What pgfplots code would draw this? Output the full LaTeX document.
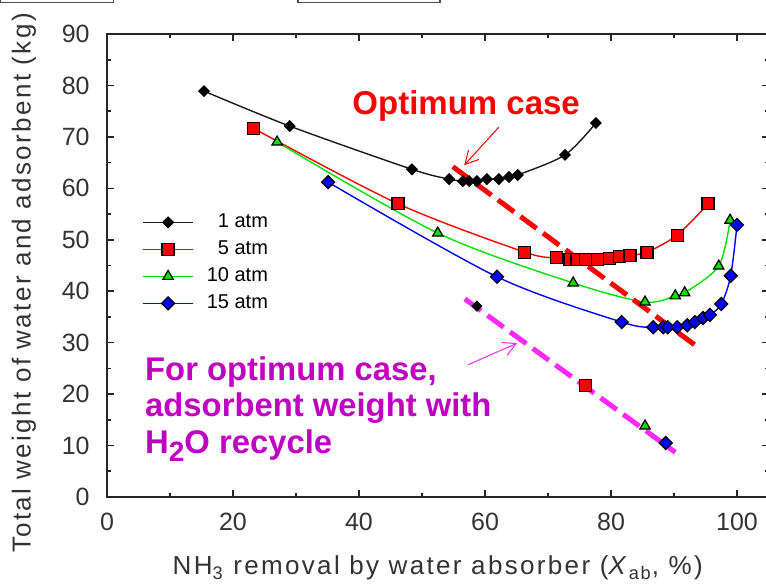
\documentclass[border=0pt]{standalone}
\usepackage{fontspec}
\setmainfont{Liberation Sans}
\newfontfamily\labelfont{Liberation Sans}[LetterSpace=9]
\usepackage{pgfplots}
\pgfplotsset{compat=1.18}
\usetikzlibrary{arrows.meta}
\definecolor{mag}{RGB}{255,40,255}
\definecolor{purp}{RGB}{192,0,192}
\definecolor{grn}{RGB}{0,225,0}
\definecolor{rd}{RGB}{255,0,0}
\definecolor{bl}{RGB}{0,0,255}
\begin{document}
\begin{tikzpicture}
\begin{axis}[
 at={(53.5bp,44bp)}, anchor=south west, scale only axis,
 width=330.75bp, height=231.5bp,
 xmin=0, xmax=105, ymin=0, ymax=90,
 xtick={0,20,...,100}, ytick={0,10,...,90},
 minor xtick={10,30,...,90}, minor ytick={5,15,...,85},
 tick align=inside, major tick length=3.5bp, minor tick length=2bp,
 axis line style={line width=1bp, black!85},
 every tick/.style={line width=0.8bp, black!85},
 /pgf/number format/assume math mode=true,
 tick label style={font=\fontsize{12.5bp}{14bp}\selectfont, text=black!80},
 xticklabel style={anchor=base, inner sep=0pt, yshift=-16.5bp},
 yticklabel style={anchor=east, inner sep=0pt, xshift=-8.5bp},
 xlabel={NH\textsubscript{3} removal by water absorber (\textit{X}\textsubscript{ab}, \%)},
 ylabel={Total weight of water and adsorbent (kg)},
 label style={font=\labelfont\fontsize{13bp}{15bp}\selectfont, text=black!80},
 xlabel style={at={(axis description cs:0.5,-0.153)}, anchor=center},
 ylabel style={at={(axis description cs:-0.1255,0.462)}, anchor=center},
 legend style={at={(axis description cs:0.0529,0.6156)}, anchor=north west,
   draw=none, fill=none, inner sep=0pt, row sep=3.5bp, column sep=6.5bp,
   font=\fontsize{10bp}{12bp}\selectfont,
   nodes={inner sep=0pt, text height=7.5bp, text depth=2.5bp},
   cells={anchor=west}},
 legend image code/.code={\draw[mark repeat=2,mark phase=2,#1] plot coordinates {(0bp,0bp) (12.5bp,0bp) (25bp,0bp)};},
 clip=false,
]
% 1 atm
\addplot[black!90, line width=0.7bp, smooth, mark=square*, mark size=1.8bp,
  mark options={rotate=45, fill=black, draw=black, solid}]
 coordinates {(15.4,78.9) (29.0,72.1) (48.4,63.7) (54.3,61.8) (56.5,61.4) (57.5,61.4) (58.7,61.4) (60.3,61.8) (62.2,61.8) (63.8,62.2) (65.2,62.6) (72.7,66.5) (77.6,72.7)};
\addlegendentry{\phantom{1}1 atm}
% 5 atm
\addplot[rd, line width=0.7bp, smooth, mark=square*, mark size=3bp,
  mark options={fill=rd, draw=black, line width=0.6bp, solid}]
 coordinates {(23.2,71.7) (46.2,57.0) (66.3,47.6) (71.4,46.5) (73.5,46.1) (74.6,46.1) (76.0,46.1) (77.9,46.1) (79.7,46.3) (81.4,46.7) (83.0,47.0) (85.7,47.6) (90.5,50.9) (95.4,57.0)};
\addlegendentry{\phantom{1}5 atm}
% 10 atm
\addplot[grn, line width=0.7bp, smooth, mark=triangle*, mark size=3bp,
  mark options={fill=grn, draw=black, line width=0.6bp, solid}]
 coordinates {(27.0,69.0) (52.5,51.3) (74.0,41.6) (85.4,37.9) (90.2,39.1) (91.7,39.7) (97.1,44.9) (98.9,53.8)};
\addlegendentry{10 atm}
% 15 atm
\addplot[bl, line width=0.7bp, smooth, mark=square*, mark size=2.3bp,
  mark options={rotate=45, fill=bl, draw=black, line width=0.6bp, solid}]
 coordinates {(35.1,61.2) (61.9,42.8) (81.7,34.0) (86.7,33.0) (88.3,33.0) (89.0,33.0) (90.5,33.0) (92.1,33.4) (93.3,34.0) (94.6,34.8) (95.7,35.4) (97.5,37.5) (99.0,43.0) (100.0,52.9)};
\addlegendentry{15 atm}
% optimum lines
\addplot[forget plot, rd, line width=2.5bp, dash pattern=on 10bp off 4bp] coordinates {(54.9,64.2) (93.7,29.2)};
\addplot[forget plot, mag, line width=2.5bp, dash pattern=on 10bp off 4bp] coordinates {(56.8,38.5) (90.2,8.7)};
% isolated points (H2O recycle)
\addplot[forget plot, only marks, mark=square*, mark size=1.8bp, mark options={rotate=45, fill=black, draw=black}] coordinates {(58.7,37.1)};
\addplot[forget plot, only marks, mark=square*, mark size=3bp, mark options={fill=rd, draw=black, line width=0.6bp}] coordinates {(76.0,21.6)};
\addplot[forget plot, only marks, mark=triangle*, mark size=3bp, mark options={fill=grn, draw=black, line width=0.6bp}] coordinates {(85.4,13.8)};
\addplot[forget plot, only marks, mark=square*, mark size=2.3bp, mark options={rotate=45, fill=bl, draw=black, line width=0.6bp}] coordinates {(88.7,10.5)};
% annotations
\node[anchor=base west, inner sep=0pt, text=rd, font=\bfseries\fontsize{16.5bp}{18bp}\selectfont] at (axis cs:38.9,74.3) {Optimum case};
\draw[rd, line width=0.5bp, -{Straight Barb[length=6.5bp,width=7bp]}] (axis cs:62.2,71.9) -- (axis cs:56.7,64.5);
\draw[mag, line width=0.5bp, -{Straight Barb[length=6.5bp,width=7bp]}] (axis cs:57.3,25.7) -- (axis cs:65.1,29.9);
\node[anchor=base west, inner sep=0pt, text=purp, font=\bfseries\fontsize{16.4bp}{18bp}\selectfont] at (axis cs:6.0,22.7) {For optimum case,};
\node[anchor=base west, inner sep=0pt, text=purp, font=\bfseries\fontsize{16.4bp}{18bp}\selectfont] at (axis cs:6.0,15.6) {adsorbent weight with};
\node[anchor=base west, inner sep=0pt, text=purp, font=\bfseries\fontsize{16.4bp}{18bp}\selectfont] at (axis cs:6.0,8.55) {H\raisebox{-4bp}{\fontsize{14bp}{14bp}\selectfont 2}O recycle};
\end{axis}
\draw[black!70, line width=0.6bp] (0.3bp,293bp) |- (56.8bp,291.2bp) -- (56.8bp,293bp);
\draw[black!70, line width=0.6bp] (149bp,293bp) |- (220bp,291.2bp) -- (220bp,293bp);
\pgfresetboundingbox
\path[use as bounding box] (0,0) rectangle (383bp,292.5bp);
\end{tikzpicture}
\end{document}
